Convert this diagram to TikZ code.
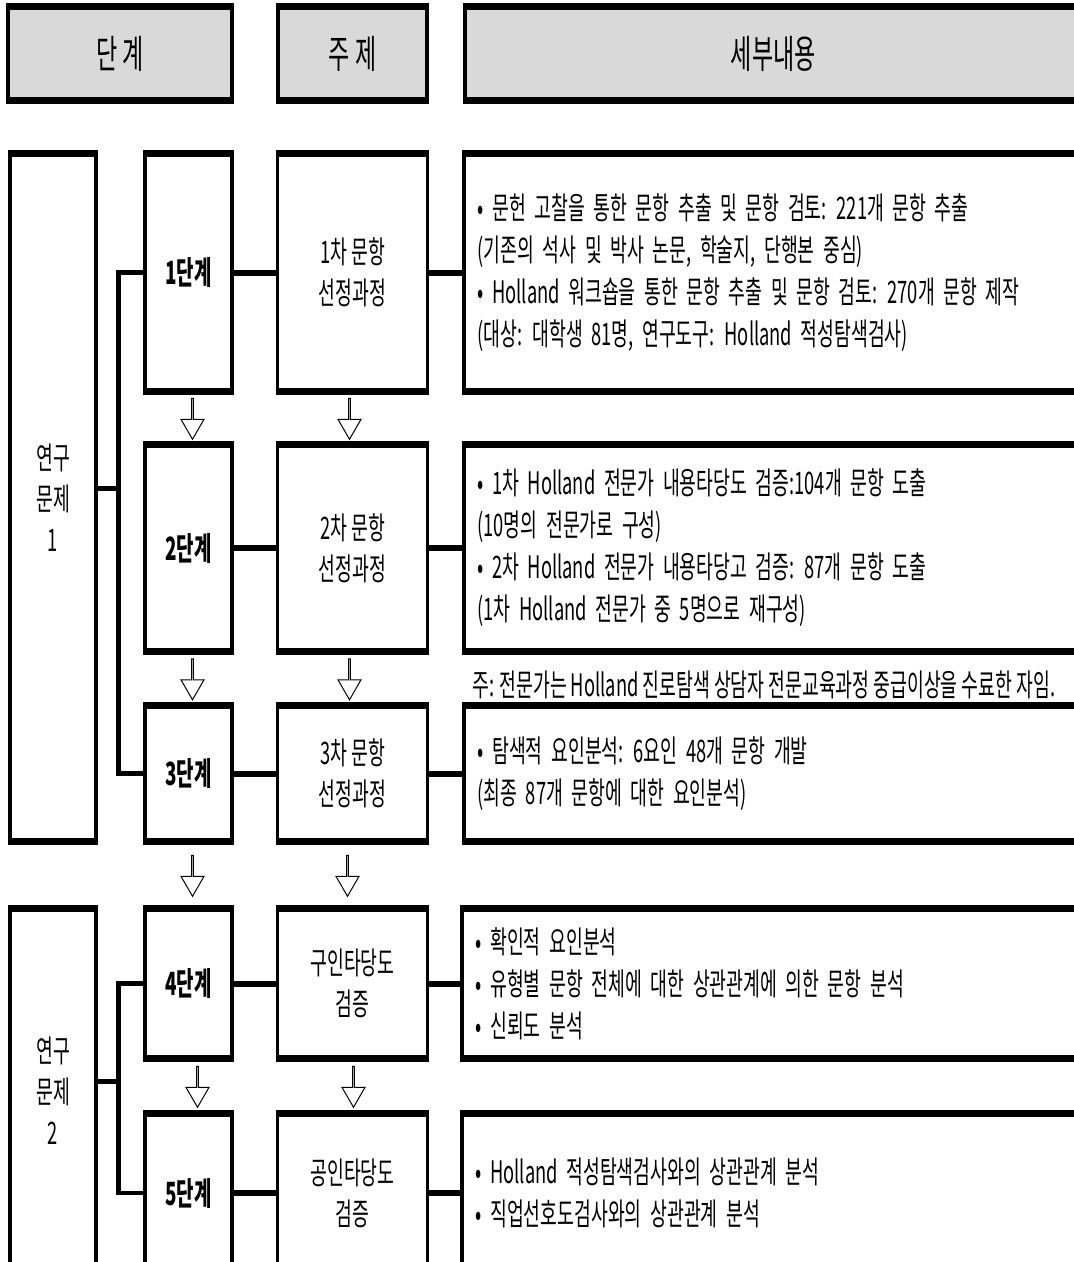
\documentclass[tikz,border=0pt]{standalone}
\usepackage{fontspec}
\setmainfont{Noto Sans CJK KR}[FakeStretch=0.59]
\newfontfamily\detailfont{Noto Sans CJK KR}[FakeStretch=0.59, WordSpace=2.1]
\usetikzlibrary{positioning, calc, shapes.arrows}
\definecolor{headgray}{RGB}{217,217,217}

\begin{document}
\begin{tikzpicture}[
  x=1pt, y=-1pt,
  cell/.style={
    rectangle, draw=black, line width=3.5pt, fill=white,
    inner sep=0pt, align=center,
    append after command={
      (\tikzlastnode.north west) edge[line width=6pt] (\tikzlastnode.north east)
      (\tikzlastnode.south west) edge[line width=6pt] (\tikzlastnode.south east)}
  },
  header/.style={cell, fill=headgray, minimum height=91pt,
    font=\fontsize{39}{42}\selectfont},
  rqbox/.style={cell, minimum width=86pt, font=\fontsize{31}{41}\selectfont},
  stagebox/.style={cell, minimum width=87pt, font=\bfseries\fontsize{32}{40}\selectfont},
  topicbox/.style={cell, minimum width=150pt, font=\fontsize{31}{41}\selectfont},
  detailbox/.style={cell, minimum width=615pt, text width=588pt, align=flush left,
    font=\detailfont\fontsize{31}{42}\selectfont},
  notetext/.style={font=\fontsize{31}{34}\selectfont, inner sep=0pt},
  link/.style={line width=6pt},
  branch/.style={line width=4.5pt},
  downarr/.style={
    single arrow, draw=black, line width=1pt, fill=white,
    shape border rotate=270, minimum height=41pt, minimum width=23pt,
    single arrow head extend=6pt, single arrow tip angle=60, inner sep=0pt
  }
]
\useasboundingbox (0,0) rectangle (1074,1262);

%% header
\node[header, minimum width=224pt] (hstage)  at (120,53.5)   {단 계};
\node[header, minimum width=149pt] (htopic)  at (352.5,53.5) {주 제};
\node[header, minimum width=617pt, anchor=west] (hdetail) at (463,53.5) {세부내용};

%% research question 1
\node[rqbox, minimum height=685pt] (rq1) at (53,497.5) {연구\\문제\\1};

\node[stagebox, minimum height=235pt] (s1) at (188.5,272.5) {1단계};
\node[topicbox, minimum height=235pt, right=42pt of s1] (t1) {1차 문항\\선정과정};
\node[detailbox, minimum height=235pt, right=33pt of t1] (d1) {%
  • 문헌 고찰을 통한 문항 추출 및 문항 검토: 221개 문항 추출\\
  (기존의 석사 및 박사 논문, 학술지, 단행본 중심)\\
  • Holland 워크숍을 통한 문항 추출 및 문항 검토: 270개 문항 제작\\
  (대상: 대학생 81명, 연구도구: Holland 적성탐색검사)};

\node[stagebox, minimum height=204pt] (s2) at (188.5,548) {2단계};
\node[topicbox, minimum height=204pt, right=42pt of s2] (t2) {2차 문항\\선정과정};
\node[detailbox, minimum height=204pt, right=33pt of t2] (d2) {%
  • 1차 Holland 전문가 내용타당도 검증:104개 문항 도출\\
  (10명의 전문가로 구성)\\
  • 2차 Holland 전문가 내용타당고 검증: 87개 문항 도출\\
  (1차 Holland 전문가 중 5명으로 재구성)};
\node[notetext, anchor=west] (note) at (472,685)
  {주: 전문가는 Holland 진로탐색 상담자 전문교육과정 중급이상을 수료한 자임.};

\node[stagebox, minimum height=133pt] (s3) at (188.5,773.5) {3단계};
\node[topicbox, minimum height=133pt, right=42pt of s3] (t3) {3차 문항\\선정과정};
\node[detailbox, minimum height=133pt, right=33pt of t3] (d3) {%
  • 탐색적 요인분석: 6요인 48개 문항 개발\\
  (최종 87개 문항에 대한 요인분석)};

%% research question 2
\node[rqbox, minimum height=361pt] (rq2) at (53,1090.5) {연구\\문제\\2};

\node[stagebox, minimum height=147pt] (s4) at (188.5,983.5) {4단계};
\node[topicbox, minimum height=147pt, right=42pt of s4] (t4) {구인타당도\\검증};
\node[detailbox, minimum height=147pt, right=31pt of t4] (d4) {%
  • 확인적 요인분석\\
  • 유형별 문항 전체에 대한 상관관계에 의한 문항 분석\\
  • 신뢰도 분석};

\node[stagebox, minimum height=156pt] (s5) at (188.5,1193) {5단계};
\node[topicbox, minimum height=156pt, right=42pt of s5] (t5) {공인타당도\\검증};
\node[detailbox, minimum height=156pt, right=31pt of t5] (d5) {%
  • Holland 적성탐색검사와의 상관관계 분석\\
  • 직업선호도검사와의 상관관계 분석};

%% hollow arrows between rows
\node[downarr, xshift=4pt]  (a1) at ($(s1.south)!0.5!(s2.north)$) {};
\node[downarr, xshift=-3pt] (b1) at ($(t1.south)!0.5!(t2.north)$) {};
\node[downarr, xshift=4pt]  (a2) at ($(s2.south)!0.5!(s3.north)$) {};
\node[downarr, xshift=-3pt] (b2) at ($(t2.south)!0.5!(t3.north)$) {};
\node[downarr, xshift=4pt]  (a3) at ($(s3.south)!0.5!(s4.north)$) {};
\node[downarr, xshift=-5pt] (b3) at ($(t3.south)!0.5!(t4.north)$) {};
\node[downarr, xshift=9pt]  (a4) at ($(s4.south)!0.5!(s5.north)$) {};
\node[downarr, xshift=1pt]  (b4) at ($(t4.south)!0.5!(t5.north)$) {};

%% row links
\draw[link] (s1) -- (t1);
\draw[link] (t1) -- (d1);
\draw[link] (s2) -- (t2);
\draw[link] (t2) -- (d2);
\draw[link] (s3) -- (t3);
\draw[link] (t3) -- (d3);
\draw[link] (s4) -- (t4);
\draw[link] (t4) -- (d4);
\draw[link] (s5) -- (t5);
\draw[link] (t5) -- (d5);

%% branches from research questions
\coordinate (j1) at ($(s1.west)+(-25,0)$);
\coordinate (j2) at ($(s4.west)+(-25,0)$);
\draw[branch] (s1.west) -- (j1) |- (s3.west);
\draw[branch] ([yshift=9pt]rq1.east) -- ([yshift=9pt]rq1.east -| j1);
\draw[branch] (s4.west) -- (j2) |- (s5.west);
\draw[branch] ([yshift=9pt]rq2.east) -- ([yshift=9pt]rq2.east -| j2);

\end{tikzpicture}
\end{document}
